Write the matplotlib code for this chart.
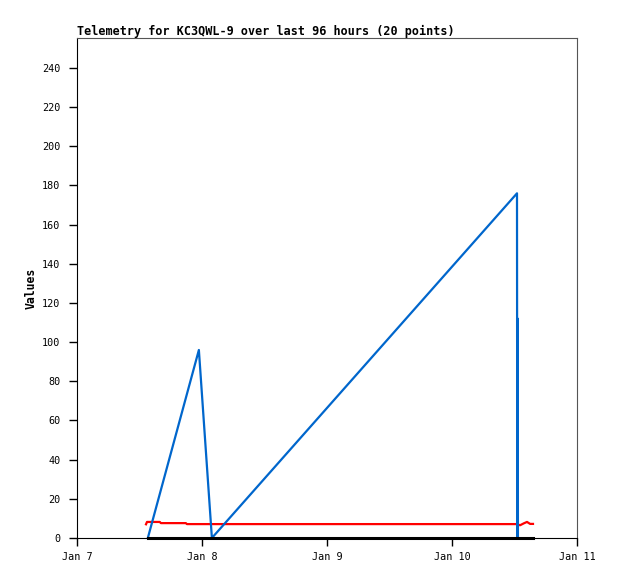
import matplotlib
matplotlib.use("Agg")
import matplotlib.pyplot as plt
import matplotlib.dates as mdates
from datetime import datetime, timedelta

title = "Telemetry for KC3QWL-9 over last 96 hours (20 points)"
ylabel = "Values"
base = datetime(2024, 1, 7)

blue_hours = [13.6, 23.4, 25.9, 84.48, 84.53, 84.62, 84.66]
blue_vals = [0, 96, 0, 176, 0, 112, 0]

red_hours = [13.25, 13.44, 15.9, 16.1, 20.9, 21.1, 84.5, 85.06, 85.8, 86.4, 87.0, 87.55]
red_vals = [7.0, 8.2, 8.2, 7.6, 7.6, 7.1, 7.1, 6.5, 7.5, 8.2, 7.2, 7.2]

black_hours = [13.6, 87.55]
black_vals = [0, 0]

xticks_days = [0, 1, 2, 3, 4]
xtick_labels = ["Jan 7", "Jan 8", "Jan 9", "Jan 10", "Jan 11"]
yticks = list(range(0, 241, 20))

def to_dt(hs):
    return [base + timedelta(hours=h) for h in hs]

plt.rcParams['font.family'] = ['DejaVu Sans Mono']
fig = plt.figure(figsize=(6.18, 5.79), dpi=100)
ax = fig.add_axes([77/618, 41/579, 500/618, 500/579])

ax.plot(to_dt(red_hours), red_vals, color="#ff0000", lw=1.6, zorder=3)
ax.plot(to_dt(blue_hours), blue_vals, color="#0066cc", lw=1.6, zorder=4)
ax.plot(to_dt(black_hours), black_vals, color="#000000", lw=2.2, zorder=5, clip_on=False)

ax.set_xlim(base, base + timedelta(days=4))
ax.set_ylim(0, 255.3)
ax.set_xticks([base + timedelta(days=d) for d in xticks_days])
ax.set_xticklabels(xtick_labels)
ax.set_yticks(yticks)
ax.tick_params(direction="out", length=6, width=1, labelsize=7.3, colors="black")
ax.tick_params(axis="x", pad=4)
ax.tick_params(axis="y", pad=6)

for s in ["top", "right"]:
    ax.spines[s].set_color("#555555")
for s in ["left", "bottom"]:
    ax.spines[s].set_color("black")

ax.set_ylabel(ylabel, fontsize=8.3, fontweight="bold", labelpad=3)
ax.set_title(title, loc="left", fontsize=8.5, fontweight="bold", pad=2)

fig.savefig("out.png", dpi=100)
